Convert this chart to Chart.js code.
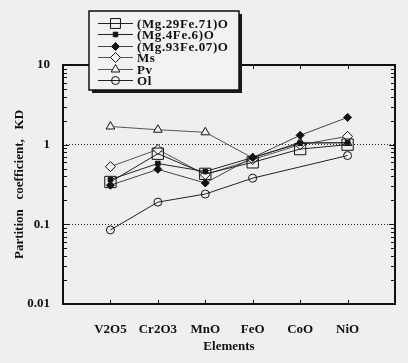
<!DOCTYPE html>
<html>
<head>
<meta charset="utf-8">
<script src="https://cdn.jsdelivr.net/npm/chart.js@4"></script>
<style>
  html, body { margin: 0; padding: 0; background: #efefef; }
  #wrap { width: 408px; height: 363px; }
</style>
</head>
<body>
<div id="wrap"><canvas id="chart1" width="408" height="363"></canvas></div>
<script>
// oxides on the x axis
var elements = ['V2O5', 'Cr2O3', 'MnO', 'FeO', 'CoO', 'NiO']

// partition coefficients
var mg29 = [0.34, 0.77, 0.43, 0.60, 0.88, 1.00]
var mg4 = [0.365, 0.58, 0.46, 0.69, 1.04, 1.06]
var mg93 = [0.31, 0.49, 0.33, 0.69, 1.31, 2.20]
var ms = [0.53, 0.87, 0.42, 0.65, 1.00, 1.27]
var pv = [1.69, 1.54, 1.43, 0.68, 1.07, 1.05]
var ol = [0.085, 0.19, 0.24, 0.38, null, 0.73]

var yTicks = [0.01, 0.1, 1, 10]

var font = "'Liberation Serif', 'Times New Roman', serif"

function toPoints(values) {
    return values.map(function (v, i) { return {x: i + 1, y: v} })
}

function series(label, values, style, radius, fill, lineColor) {
    return {
        label: label,
        data: toPoints(values),
        borderColor: lineColor,
        borderWidth: 1,
        pointStyle: style,
        pointRadius: radius,
        pointHoverRadius: radius,
        pointBackgroundColor: fill,
        pointBorderColor: '#111',
        pointBorderWidth: 1,
        spanGaps: true,
        tension: 0
    }
}

var datasets = [
    series('(Mg.29Fe.71)O', mg29, 'rect', 8, 'rgba(0,0,0,0)', '#222'),
    series('(Mg.4Fe.6)O', mg4, 'rect', 3.2, '#111', '#222'),
    series('(Mg.93Fe.07)O', mg93, 'rectRot', 4, '#111', '#444'),
    series('Ms', ms, 'rectRot', 5, '#f4f4f4', '#555'),
    series('Pv', pv, 'triangle', 5, '#f4f4f4', '#555'),
    series('Ol', ol, 'circle', 4, 'rgba(0,0,0,0)', '#222')
]

// frame, inside tick marks and the boxed legend
var decor = {
    id: 'decor',
    afterDatasetsDraw: function (chart) {
        var c = chart.ctx
        var a = chart.chartArea
        var xs = chart.scales.x
        var ys = chart.scales.y
        c.save()
        c.strokeStyle = '#111'
        c.lineWidth = 1
        c.beginPath()
        for (var d = -2; d <= 0; d++) {
            for (var m = 1; m <= 9; m++) {
                var v = m * Math.pow(10, d)
                var py = Math.round(ys.getPixelForValue(v)) + 0.5
                var len = m == 1 ? 6 : 4
                c.moveTo(a.left, py); c.lineTo(a.left + len, py)
                c.moveTo(a.right, py); c.lineTo(a.right - len, py)
            }
        }
        for (var i = 1; i <= elements.length; i++) {
            var px = Math.round(xs.getPixelForValue(i)) + 0.5
            c.moveTo(px, a.bottom); c.lineTo(px, a.bottom - 4)
            c.moveTo(px, a.top); c.lineTo(px, a.top + 4)
        }
        c.stroke()
        c.lineWidth = 2
        c.strokeRect(a.left, a.top, a.right - a.left, a.bottom - a.top)

        // legend box with shadow
        var bx = 89, by = 11, bw = 150, bh = 79
        c.fillStyle = '#1a1a1a'
        c.fillRect(bx + 3, by + 3, bw, bh)
        c.fillStyle = '#f2f2f2'
        c.fillRect(bx, by, bw, bh)
        c.lineWidth = 1.5
        c.strokeRect(bx, by, bw, bh)
        c.font = 'bold 13px ' + font
        c.letterSpacing = '0.6px'
        c.textBaseline = 'middle'
        chart.data.datasets.forEach(function (ds, k) {
            var ly = Math.round(23 + k * 11.4) + 0.5
            c.strokeStyle = ds.borderColor
            c.lineWidth = 1
            c.beginPath()
            c.moveTo(98, ly); c.lineTo(133, ly)
            c.stroke()
            c.fillStyle = ds.pointBackgroundColor
            c.strokeStyle = '#111'
            Chart.helpers.drawPoint(c, {
                pointStyle: ds.pointStyle,
                radius: Math.min(ds.pointRadius, 7),
                borderWidth: 1
            }, 115.5, ly)
            c.fillStyle = '#111'
            c.fillText(ds.label, 137, ly + 1)
        })
        c.restore()
    }
}

var ctx1 = document.getElementById('chart1')
const myChart = new Chart(ctx1, {
    type: 'line',
    data: {datasets: datasets},
    plugins: [decor],
    options: {
        responsive: false,
        animation: false,
        layout: {padding: {top: 65, right: 13, left: 0, bottom: 0}},
        scales: {
            x: {
                type: 'linear',
                min: 0,
                max: 7,
                afterFit: function (s) { s.height = 59 },
                afterBuildTicks: function (s) {
                    s.ticks = elements.map(function (e, i) { return {value: i + 1} })
                },
                grid: {display: false},
                border: {display: false},
                ticks: {
                    padding: 10,
                    color: '#111',
                    font: {family: font, size: 13, weight: 'bold'},
                    callback: function (v) { return elements[v - 1] || '' }
                },
                title: {
                    display: true,
                    text: 'Elements',
                    color: '#111',
                    padding: {top: 0, bottom: 9},
                    font: {family: font, size: 13, weight: 'bold'}
                }
            },
            y: {
                type: 'logarithmic',
                min: 0.01,
                max: 10,
                afterFit: function (s) { s.width = 63 },
                afterBuildTicks: function (s) {
                    s.ticks = yTicks.map(function (v) { return {value: v} })
                },
                grid: {
                    drawTicks: false,
                    lineWidth: 1,
                    color: function (c) {
                        var v = c.tick && c.tick.value
                        return (v == 1 || v == 0.1) ? '#222' : 'rgba(0,0,0,0)'
                    }
                },
                border: {display: false, dash: [1, 2]},
                ticks: {
                    padding: 13,
                    autoSkip: false,
                    color: '#111',
                    font: {family: font, size: 13, weight: 'bold'},
                    callback: function (v) { return String(v) }
                },
                title: {
                    display: true,
                    text: 'Partition   coefficient,   KD',
                    color: '#111',
                    padding: {top: 12, bottom: 0},
                    font: {family: font, size: 13, weight: 'bold'}
                }
            }
        },
        plugins: {
            legend: {display: false},
            tooltip: {enabled: false}
        }
    }
})
</script>
</body>
</html>
